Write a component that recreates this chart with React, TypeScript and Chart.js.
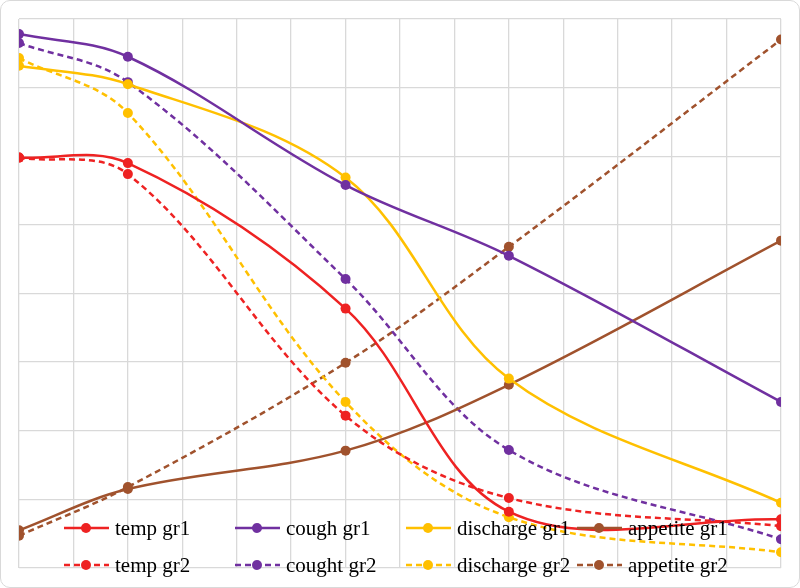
import React, { useEffect, useRef } from "react";
import { Chart, registerables } from "chart.js";
Chart.register(...registerables);

const xs = [0, 2, 6, 9, 14];
const tempGr1 = [5.98, 5.9, 3.78, 0.82, 0.71];
const tempGr2 = [5.98, 5.74, 2.22, 1.02, 0.61];
const coughGr1 = [7.78, 7.45, 5.58, 4.55, 2.42];
const coughGr2 = [7.65, 7.08, 4.21, 1.72, 0.42];
const dischargeGr1 = [7.32, 7.05, 5.69, 2.76, 0.95];
const dischargeGr2 = [7.43, 6.63, 2.42, 0.74, 0.23];
const appetiteGr1 = [0.55, 1.15, 1.71, 2.67, 4.77];
const appetiteGr2 = [0.47, 1.18, 2.99, 4.68, 7.7];

const RED = "#ee2222", PURPLE = "#7030a0", YELLOW = "#ffc000", BROWN = "#a0522d";
const series = [
  { label: "temp gr1", data: tempGr1, color: RED, dash: false },
  { label: "cough gr1", data: coughGr1, color: PURPLE, dash: false },
  { label: "discharge gr1", data: dischargeGr1, color: YELLOW, dash: false },
  { label: "appetite gr1", data: appetiteGr1, color: BROWN, dash: false },
  { label: "temp gr2", data: tempGr2, color: RED, dash: true },
  { label: "cought gr2", data: coughGr2, color: PURPLE, dash: true },
  { label: "discharge gr2", data: dischargeGr2, color: YELLOW, dash: true },
  { label: "appetite gr2", data: appetiteGr2, color: BROWN, dash: true },
];

export default function App() {
  const ref = useRef<HTMLCanvasElement>(null);
  useEffect(() => {
    const chart = new Chart(ref.current!, {
      type: "line",
      data: {
        datasets: series.map((s) => ({
          label: s.label,
          data: s.data.map((v, i) => ({ x: xs[i], y: v })),
          borderColor: s.color,
          backgroundColor: s.color,
          borderWidth: 2.5,
          borderDash: s.dash ? [6, 4] : [],
          pointRadius: 5,
          pointBorderWidth: 0,
          tension: 0.35,
        })),
      },
      options: {
        animation: false,
        responsive: false,
        layout: { padding: { left: 19, right: 19, top: 19, bottom: 20 } },
        plugins: { legend: { display: false }, tooltip: { enabled: false } },
        scales: {
          x: { type: "linear", min: 0, max: 14, ticks: { display: false, stepSize: 1 }, grid: { color: "#d9d9d9", drawTicks: false, lineWidth: 1.3 }, border: { display: false } },
          y: { min: 0, max: 8, ticks: { display: false, stepSize: 1 }, grid: { color: "#d9d9d9", drawTicks: false, lineWidth: 1.3 }, border: { display: false } },
        },
      },
    });
    return () => chart.destroy();
  }, []);
  return (
    <div style={{ position: "fixed", left: 0, top: 0, width: 800, height: 588, background: "#fff" }}>
      <canvas ref={ref} width={800} height={588} style={{ position: "absolute", left: 0, top: 0 }} />
      <div style={{ position: "absolute", left: 0, top: 0, width: 798, height: 586, border: "1px solid #d9d9d9", borderRadius: 10, pointerEvents: "none" }} />
      {series.map((s, i) => {
        const col = i % 4, row = Math.floor(i / 4);
        return (
          <div key={s.label} style={{ position: "absolute", left: 64 + col * 171, top: 514 + row * 37, height: 28, display: "flex", alignItems: "center", fontFamily: "'Liberation Serif', 'Times New Roman', serif", fontSize: 21, color: "#000" }}>
            <svg width={45} height={12} style={{ marginRight: 6 }}>
              <line x1={0} y1={6} x2={45} y2={6} stroke={s.color} strokeWidth={2.5} strokeDasharray={s.dash ? "6 4" : undefined} />
              <circle cx={22} cy={6} r={5} fill={s.color} />
            </svg>
            <span>{s.label}</span>
          </div>
        );
      })}
    </div>
  );
}
